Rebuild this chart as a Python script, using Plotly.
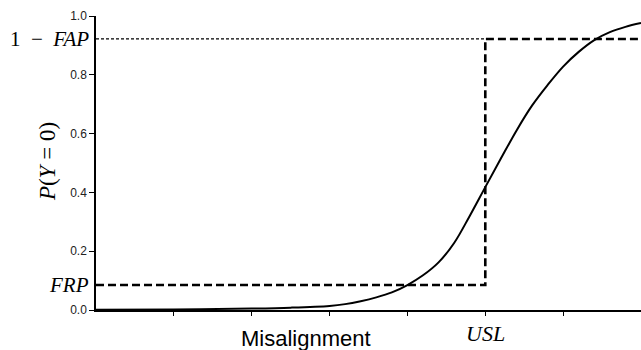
import plotly.graph_objects as go

# Curve (misalignment in tick units, probability)
curve_x = [0.0, 1.0, 2.0, 2.5, 3.0, 3.2, 3.4, 3.6, 3.8, 4.0, 4.2, 4.4, 4.6, 4.8,
           5.0, 5.2, 5.4, 5.6, 5.8, 6.0, 6.2, 6.4, 6.6, 6.8, 7.0]
curve_y = [0.001, 0.002, 0.005, 0.008, 0.014, 0.020, 0.030, 0.043, 0.060, 0.085, 0.118,
           0.162, 0.228, 0.320, 0.418, 0.515, 0.610, 0.695, 0.765, 0.828, 0.878, 0.918,
           0.945, 0.963, 0.976]

usl = 5.0
frp = 0.085
one_minus_fap = 0.922
x_max = 7.0

x_ticks = [1, 2, 3, 4, 5, 6]
y_ticks = [0.0, 0.2, 0.4, 0.6, 0.8, 1.0]
y_tick_labels = ["0.0", "0.2", "0.4", "0.6", "0.8", "1.0"]

fig = go.Figure()

# thin dotted line at 1-FAP from axis to USL
fig.add_trace(go.Scatter(x=[0, usl], y=[one_minus_fap, one_minus_fap], mode="lines",
                         line=dict(color="black", width=1.2, dash="3px,2px"),
                         hoverinfo="skip", showlegend=False))
# thick dashed step: FRP up to USL, vertical at USL, then 1-FAP to the end
fig.add_trace(go.Scatter(x=[0, usl, usl, x_max], y=[frp, frp, one_minus_fap, one_minus_fap],
                         mode="lines", line=dict(color="black", width=2.6, dash="8px,4px"),
                         hoverinfo="skip", showlegend=False))
# curve
fig.add_trace(go.Scatter(x=curve_x, y=curve_y, mode="lines", line_shape="spline",
                         line=dict(color="black", width=2, smoothing=1.0),
                         hoverinfo="skip", showlegend=False))

serif = "Liberation Serif"
annots = [
    dict(x=0, y=one_minus_fap, xref="x", yref="y", xanchor="right", yanchor="middle",
         xshift=-5, text="1&nbsp;&nbsp;−&nbsp;&nbsp;<i>FAP</i>", showarrow=False,
         font=dict(family=serif, size=21, color="black")),
    dict(x=0, y=frp, xref="x", yref="y", xanchor="right", yanchor="middle",
         xshift=-5, text="<i>FRP</i>", showarrow=False,
         font=dict(family=serif, size=21, color="black")),
    dict(x=usl, y=0, xref="x", yref="paper", xanchor="center", yanchor="top",
         yshift=-9, text="<i>USL</i>", showarrow=False,
         font=dict(family=serif, size=22, color="black")),
    dict(x=2.7, y=0, xref="x", yref="paper", xanchor="center", yanchor="top",
         yshift=-14, text="Misalignment", showarrow=False,
         font=dict(family="Liberation Sans", size=22, color="black")),
    dict(x=0, y=0.503, xref="paper", yref="paper", xanchor="center", yanchor="middle",
         xshift=-49, text="<i>P</i>(<i>Y</i>&nbsp;=&nbsp;0)", textangle=-90, showarrow=False,
         font=dict(family=serif, size=23, color="black")),
]

fig.update_layout(
    width=641, height=350,
    margin=dict(l=96, r=0, t=16, b=40),
    plot_bgcolor="white", paper_bgcolor="white",
    annotations=annots,
    xaxis=dict(range=[0, x_max], tickvals=x_ticks, ticktext=["" for _ in x_ticks],
               ticks="outside", ticklen=4, tickwidth=1, tickcolor="black",
               showline=True, linecolor="black", linewidth=1.5, showgrid=False,
               zeroline=False, fixedrange=True),
    yaxis=dict(range=[0, 1.0], tickvals=y_ticks, ticktext=y_tick_labels,
               ticks="outside", ticklen=5, tickwidth=1, tickcolor="black",
               showline=True, linecolor="black", linewidth=1.5, showgrid=False,
               zeroline=False, fixedrange=True,
               tickfont=dict(family="Liberation Sans", size=12, color="#222222")),
)

fig.write_html("out.html")
